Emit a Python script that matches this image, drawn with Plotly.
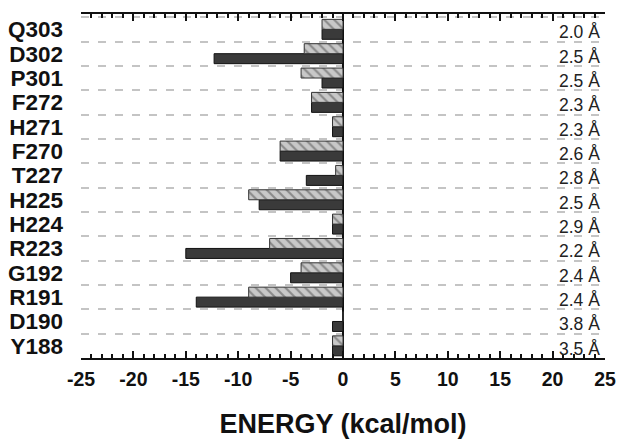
import plotly.graph_objects as go

residues = ["Q303", "D302", "P301", "F272", "H271", "F270", "T227",
            "H225", "H224", "R223", "G192", "R191", "D190", "Y188"]
hatched_vals = [-2, -3.7, -4, -3, -1, -6, -0.7, -9, -1, -7, -4, -9, 0, -1]
dark_vals = [-2, -12.3, -2, -3, -1, -6, -3.5, -8, -1, -15, -5, -14, -1, -1]
distances = ["2.0 Å", "2.5 Å", "2.5 Å", "2.3 Å", "2.3 Å", "2.6 Å", "2.8 Å",
             "2.5 Å", "2.9 Å", "2.2 Å", "2.4 Å", "2.4 Å", "3.8 Å", "3.5 Å"]
x_ticks = [-25, -20, -15, -10, -5, 0, 5, 10, 15, 20, 25]
x_ticklabels = ["-25", "-20", "-15", "-10", "-5", "0", "5", "10", "15", "20", "25"]

n = len(residues)
ypos = [n - 1 - i for i in range(n)]
minor_ticks = list(range(-25, 26))

FONT = "Arial, Liberation Sans, sans-serif"

fig = go.Figure()
fig.add_trace(go.Bar(
    y=ypos, x=dark_vals, orientation="h",
    marker=dict(color="#3a3a3a", line=dict(color="#111", width=1)),
    showlegend=False,
))
fig.add_trace(go.Bar(
    y=ypos, x=hatched_vals, orientation="h",
    marker=dict(color="#c8c8c8", line=dict(color="#333", width=1),
                pattern=dict(shape="\\", fgcolor="#4a4a4a", bgcolor="#c8c8c8",
                             size=7, solidity=0.3)),
    showlegend=False,
))

for yv, d in zip(ypos, distances):
    fig.add_annotation(x=25, y=yv, xref="x", yref="y", text=d, showarrow=False,
                       xanchor="right", xshift=-3, yshift=-3,
                       font=dict(family=FONT, size=17.5, color="#222"))

fig.update_layout(
    width=617, height=439,
    margin=dict(l=81, r=12, t=14, b=81),
    paper_bgcolor="white", plot_bgcolor="white",
    barmode="group", bargap=0.18, bargroupgap=0,
    font=dict(family=FONT, color="#111"),
)
fig.update_xaxes(
    range=[-25, 25], tickmode="array", tickvals=x_ticks, ticktext=x_ticklabels,
    automargin=False, ticklabeloverflow="allow",
    ticks="inside", ticklen=7, tickwidth=2, tickcolor="#111",
    showline=True, linecolor="#111", linewidth=2, mirror="ticks",
    showgrid=False, zeroline=True, zerolinecolor="#111", zerolinewidth=2,
    minor=dict(tickmode="array", tickvals=minor_ticks, ticks="inside", ticklen=4,
               tickwidth=1.5, tickcolor="#111", showgrid=False),
    ticklabelstandoff=3,
    tickfont=dict(family=FONT, size=19.5, color="#111", weight="bold"),
    title=dict(text="<b>ENERGY (kcal/mol)</b>", standoff=41,
               font=dict(family=FONT, size=27, color="#111")),
)
fig.update_yaxes(
    range=[-0.5, 13.63], tickvals=ypos, ticktext=residues,
    automargin=False,
    showline=False, zeroline=False, showgrid=False, ticks="",
    ticklabelstandoff=17,
    tickfont=dict(family=FONT, size=22.5, color="#111", weight="bold"),
    minor=dict(tick0=0.5, dtick=1, showgrid=True, gridcolor="#c4c4c4",
               gridwidth=1.5, griddash="8px,9px", ticks=""),
)

fig.write_html(
    "out.html",
    config={"displayModeBar": False},
    post_script="document.body.style.margin='0';document.body.style.overflow='hidden';",
)
